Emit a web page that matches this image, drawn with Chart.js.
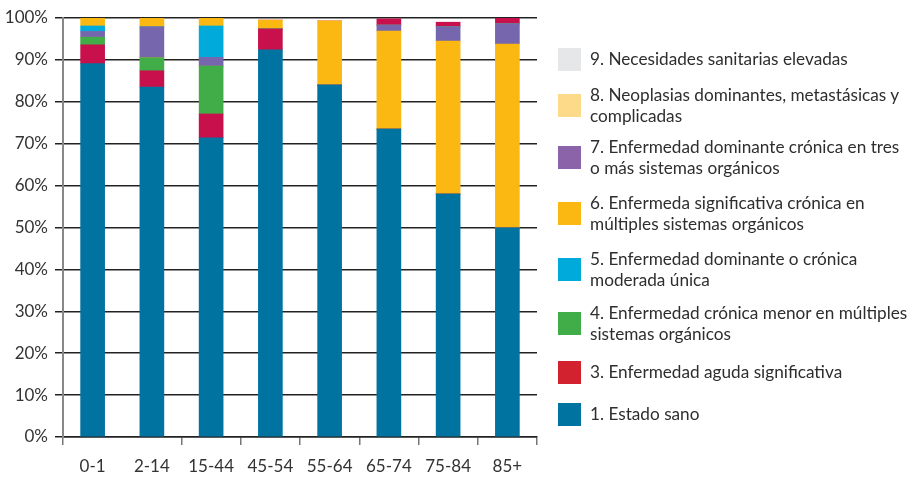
<!DOCTYPE html>
<html lang="es">
<head>
<meta charset="utf-8">
<title>Estado de salud por grupo de edad</title>
<script src="https://cdn.jsdelivr.net/npm/chart.js@4.4.1/dist/chart.umd.min.js"></script>
<style>
  html, body { margin: 0; padding: 0; background: #fff; }
  body { width: 910px; height: 478px; position: relative; overflow: hidden; font-family: Lato, "Noto Sans", sans-serif; }
  #wrap { position: absolute; left: 0; top: 0; width: 560px; height: 478px; }
  #leyenda { position: absolute; left: 558px; top: 0; width: 352px; }
  .item { position: absolute; left: 0; display: flex; align-items: center; }
  .caja { width: 23px; height: 23px; flex: none; }
  .txt { margin-left: 9px; font-size: 17.2px; line-height: 21.5px; color: #2e2e2e; white-space: nowrap; }
</style>
</head>
<body>
<div id="wrap"><canvas id="grafico"></canvas></div>
<div id="leyenda"></div>

<script>
// grupos de edad y porcentajes por estado de salud
const grupos = ["0-1", "2-14", "15-44", "45-54", "55-64", "65-74", "75-84", "85+"];
const sano         = [89.1, 83.5, 71.4, 92.4, 84.0, 73.5, 58.0, 49.9];
const aguda        = [4.5, 3.9, 5.7, 5.0, 0, 1.5, 1.1, 1.6];
const menor        = [1.8, 3.1, 11.4, 0, 0, 0, 0, 0];
const moderada     = [1.3, 0, 7.5, 0, 0, 0, 0, 0];
const multiples    = [1.9, 2.1, 1.9, 2.1, 15.3, 23.4, 36.5, 43.9];
const tresSistemas = [1.4, 7.4, 2.1, 0, 0, 1.4, 3.4, 4.8];
// en los grupos mayores el orden de apilado cambia
const mayores = [false, false, false, false, false, true, true, true];

const C = {
  sano: "#0073A0",
  aguda: "#C8104C",
  menor: "#41AD49",
  moderada: "#00ABDB",
  multiples: "#FBB813",
  tres: "#7566AD"
};

const soloJovenes = arr => arr.map((v, i) => mayores[i] ? 0 : v);
const soloMayores = arr => arr.map((v, i) => mayores[i] ? v : 0);

const datasets = [
  { label: "1. Estado sano", data: sano, backgroundColor: C.sano },
  { label: "3. Enfermedad aguda significativa", data: soloJovenes(aguda), backgroundColor: C.aguda },
  { label: "4. Enfermedad crónica menor", data: menor, backgroundColor: C.menor },
  { label: "6. Enfermeda significativa crónica", data: soloMayores(multiples), backgroundColor: C.multiples },
  { label: "7. Enfermedad dominante crónica", data: tresSistemas, backgroundColor: C.tres },
  { label: "5. Enfermedad dominante o crónica moderada", data: moderada, backgroundColor: C.moderada },
  { label: "6. Enfermeda significativa crónica", data: soloJovenes(multiples), backgroundColor: C.multiples },
  { label: "3. Enfermedad aguda significativa", data: soloMayores(aguda), backgroundColor: C.aguda }
].map(d => Object.assign(d, { barThickness: 24, borderWidth: 0, stack: "s" }));

Chart.defaults.font.family = "Lato, 'Noto Sans', sans-serif";
Chart.defaults.color = "#333";

new Chart(document.getElementById("grafico"), {
  type: "bar",
  data: { labels: grupos, datasets },
  options: {
    responsive: true,
    maintainAspectRatio: false,
    animation: false,
    layout: { padding: { top: 18, right: 23, left: 0, bottom: 0 } },
    plugins: { legend: { display: false }, tooltip: { enabled: false } },
    scales: {
      x: {
        stacked: true,
        afterFit: s => { s.height = 41; },
        grid: {
          drawOnChartArea: false,
          offset: true,
          tickLength: 8,
          tickColor: ctx => ctx.index === 1 ? "rgba(0,0,0,0)" : "#777",
          lineWidth: 1.5
        },
        border: { color: "#222", width: 1.5 },
        ticks: { font: { size: 17 }, color: "#333", padding: 11 }
      },
      y: {
        stacked: true,
        min: 0,
        max: 100,
        afterFit: s => { s.width = 63; },
        grid: { color: "#222", lineWidth: 1.5, tickLength: 8, tickColor: "#222" },
        border: { color: "#888", width: 2 },
        ticks: {
          stepSize: 10,
          font: { size: 17 },
          color: "#333",
          padding: 7,
          callback: v => v + "%"
        }
      }
    }
  }
});

// leyenda a la derecha
const leyenda = [
  { txt: ["9. Necesidades sanitarias elevadas"], color: "#E6E7E8", top: 47 },
  { txt: ["8. Neoplasias dominantes, metastásicas y", "complicadas"], color: "#FDD98A", top: 94 },
  { txt: ["7. Enfermedad dominante crónica en tres", "o más sistemas orgánicos"], color: "#8A63A9", top: 146 },
  { txt: ["6. Enfermeda significativa crónica en", "múltiples sistemas orgánicos"], color: "#FBB813", top: 202 },
  { txt: ["5. Enfermedad dominante o crónica", "moderada única"], color: "#00ABDB", top: 258 },
  { txt: ["4. Enfermedad crónica menor en múltiples", "sistemas orgánicos"], color: "#41AD49", top: 312 },
  { txt: ["3. Enfermedad aguda significativa"], color: "#D2212F", top: 360 },
  { txt: ["1. Estado sano"], color: "#0073A0", top: 402 }
];
const cont = document.getElementById("leyenda");
leyenda.forEach(it => {
  const fila = document.createElement("div");
  fila.className = "item";
  // las cajas de dos líneas quedan centradas en el texto
  const lineas = it.txt.length;
  fila.style.top = (it.top - (lineas - 1) * 10.75 + 0.5) + "px";
  const caja = document.createElement("div");
  caja.className = "caja";
  caja.style.background = it.color;
  const t = document.createElement("div");
  t.className = "txt";
  t.innerHTML = it.txt.join("<br>");
  fila.appendChild(caja);
  fila.appendChild(t);
  cont.appendChild(fila);
});
</script>
</body>
</html>
